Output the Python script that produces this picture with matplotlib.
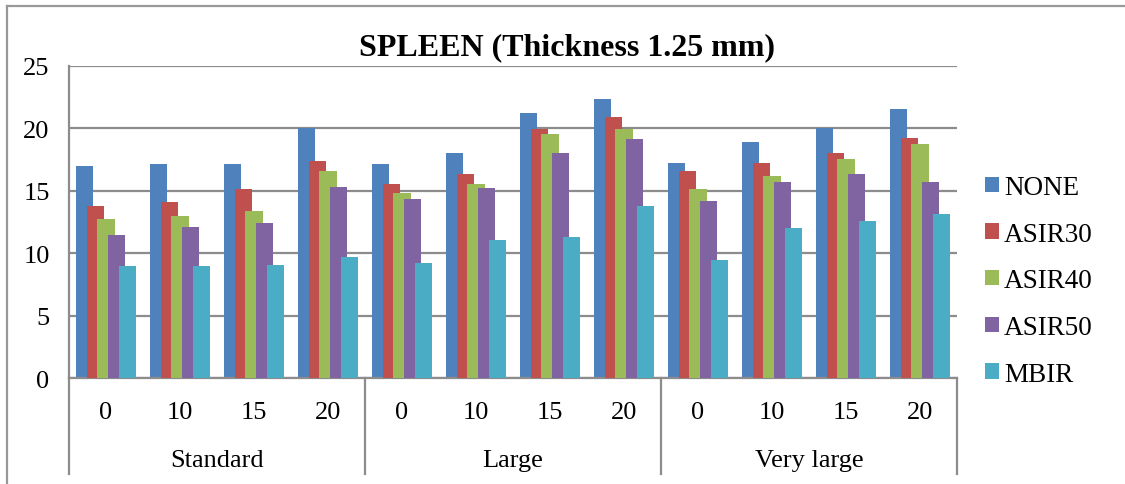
import matplotlib
matplotlib.use("Agg")
import matplotlib.pyplot as plt
from matplotlib.lines import Line2D
from matplotlib.patches import Patch

plt.rcParams['font.family'] = ['Liberation Serif', 'DejaVu Serif']

# Data
groups = ["Standard", "Large", "Very large"]
doses = ["0", "10", "15", "20"]
series = ["NONE", "ASIR30", "ASIR40", "ASIR50", "MBIR"]
colors = ["#4F81BD", "#C0504D", "#9BBB59", "#8064A2", "#4BACC6"]

none_vals   = [17.0, 17.1, 17.1, 20.0, 17.1, 18.0, 21.2, 22.3, 17.2, 18.9, 20.0, 21.5]
asir30_vals = [13.8, 14.1, 15.1, 17.4, 15.5, 16.3, 19.9, 20.9, 16.6, 17.2, 18.0, 19.2]
asir40_vals = [12.7, 13.0, 13.4, 16.6, 14.8, 15.5, 19.5, 19.9, 15.1, 16.2, 17.5, 18.7]
asir50_vals = [11.5, 12.1, 12.4, 15.3, 14.3, 15.2, 18.0, 19.1, 14.2, 15.7, 16.3, 15.7]
mbir_vals   = [8.95, 9.0, 9.1, 9.7, 9.2, 11.1, 11.3, 13.8, 9.5, 12.0, 12.6, 13.1]

values = [none_vals, asir30_vals, asir40_vals, asir50_vals, mbir_vals]

W, H = 1125, 485
fig = plt.figure(figsize=(W / 100, H / 100), dpi=100)
fig.patch.set_facecolor("white")

left, right, bottom, top = 69, 957, 379.3, 66.7
ax = fig.add_axes([left / W, (H - bottom) / H, (right - left) / W, (bottom - top) / H])

n_cat = len(groups) * len(doses)
bar_w = 0.238
step = 0.144
for j, (name, vals, c) in enumerate(zip(series, values, colors)):
    xs = [i + 0.5 + (j - 2) * step for i in range(n_cat)]
    ax.bar(xs, vals, width=bar_w, color=c, label=name, zorder=2 + j,
           linewidth=0)

grid_c = "#8C8C8C"
label_fs = 19
ax.set_xlim(0, n_cat)
ax.set_ylim(0, 25)
ax.set_yticks([0, 5, 10, 15, 20, 25])
ax.yaxis.grid(True, color=grid_c, linewidth=1.6, zorder=0)
ax.set_axisbelow(True)
for s in ["top", "right"]:
    ax.spines[s].set_visible(False)
for s in ["left", "bottom"]:
    ax.spines[s].set_color(grid_c)
    ax.spines[s].set_linewidth(1.6)
ax.tick_params(axis="y", length=0, pad=14, labelsize=label_fs)
ax.set_xticks([])

# Two-level category axis
ax_h = bottom - top
sep_depth = -(475 - bottom) / ax_h
trans = ax.get_xaxis_transform()
for i in range(n_cat):
    ax.text(i + 0.5, -(413 - bottom) / ax_h, doses[i % len(doses)], transform=trans,
            ha="center", va="center", fontsize=label_fs)
for g, name in enumerate(groups):
    ax.text(g * len(doses) + len(doses) / 2, -(461 - bottom) / ax_h, name,
            transform=trans, ha="center", va="center", fontsize=label_fs)
for g in range(len(groups) + 1):
    ax.add_line(Line2D([g * len(doses)] * 2, [0, sep_depth], transform=trans,
                       color=grid_c, linewidth=1.6, clip_on=False))

# Title
fig.text(567 / W, 1 - 48 / H, "SPLEEN (Thickness 1.25 mm)", ha="center", va="center",
         fontsize=23, fontweight="bold")

# Legend
handles = [Patch(facecolor=c, edgecolor="none") for c in colors]
fig.legend(handles, series, loc="upper left", bbox_to_anchor=(985 / W, 1 - 176 / H),
           frameon=False, fontsize=19.5, handlelength=0.5, handleheight=0.5,
           handletextpad=0.2, labelspacing=0.8, borderaxespad=0, borderpad=0)

# Chart border (top and left edges visible)
fig.add_artist(Line2D([7 / W, 1], [1 - 6.5 / H, 1 - 6.5 / H], transform=fig.transFigure,
                      color="#999999", linewidth=1.6))
fig.add_artist(Line2D([7 / W, 7 / W], [0, 1 - 6.5 / H], transform=fig.transFigure,
                      color="#999999", linewidth=1.6))

fig.savefig("out.png", dpi=100, facecolor="white")
